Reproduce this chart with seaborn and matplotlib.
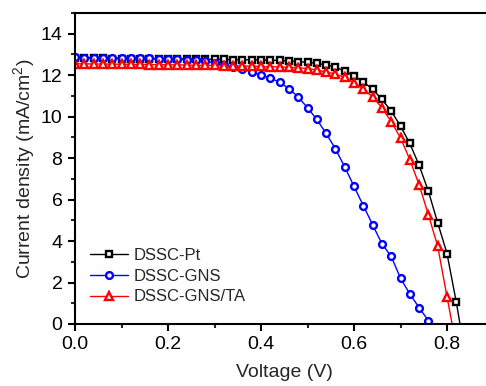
import numpy as np
import pandas as pd
import matplotlib
matplotlib.use("Agg")
import matplotlib.pyplot as plt
import seaborn as sns
from matplotlib.ticker import MultipleLocator, FormatStrFormatter

# J-V data, markers every 0.02 V
v_pt = np.round(np.arange(0, 0.83, 0.02), 2)
j_pt = [12.82, 12.82, 12.81, 12.81, 12.80, 12.80, 12.80, 12.79, 12.79, 12.79,
        12.78, 12.78, 12.78, 12.77, 12.77, 12.76, 12.76, 12.75, 12.75, 12.74,
        12.73, 12.72, 12.71, 12.69, 12.66, 12.62, 12.57, 12.50, 12.38, 12.21,
        11.97, 11.68, 11.32, 10.84, 10.27, 9.55, 8.71, 7.66, 6.40, 4.88,
        3.40, 1.05]
v_gns = np.round(np.arange(0, 0.77, 0.02), 2)
j_gns = [12.86, 12.85, 12.85, 12.84, 12.84, 12.83, 12.83, 12.82, 12.81, 12.80,
         12.79, 12.77, 12.75, 12.72, 12.67, 12.60, 12.50, 12.40, 12.29, 12.16,
         12.00, 11.86, 11.66, 11.35, 10.95, 10.43, 9.87, 9.19, 8.45, 7.58,
         6.64, 5.71, 4.79, 3.87, 3.26, 2.21, 1.45, 0.79, 0.16]
v_ta = np.round(np.arange(0, 0.81, 0.02), 2)
j_ta = [12.55, 12.55, 12.54, 12.54, 12.53, 12.53, 12.52, 12.52, 12.51, 12.51,
        12.50, 12.50, 12.49, 12.48, 12.48, 12.47, 12.46, 12.45, 12.44, 12.43,
        12.42, 12.41, 12.40, 12.38, 12.36, 12.32, 12.25, 12.16, 12.05, 11.89,
        11.64, 11.35, 10.95, 10.43, 9.76, 8.98, 7.93, 6.72, 5.27, 3.75,
        1.32]
# open-circuit voltages where the lines meet J = 0
voc = {"DSSC-Pt": 0.828, "DSSC-GNS": 0.765, "DSSC-GNS/TA": 0.811}

series = [
    ("DSSC-Pt", v_pt, j_pt, "black", "s", 4.3),
    ("DSSC-GNS", v_gns, j_gns, "#0000FF", "o", 4.9),
    ("DSSC-GNS/TA", v_ta, j_ta, "#FF0000", "^", 5.8),
]

sns.set_style("ticks")
plt.rcParams["font.family"] = ["Liberation Sans", "DejaVu Sans"]
plt.rcParams["mathtext.fontset"] = "custom"
plt.rcParams["mathtext.rm"] = "Liberation Sans"

fig = plt.figure(figsize=(4.86, 3.86), dpi=100)
ax = fig.add_axes([75 / 486, 62 / 386, 418.5 / 486, 311 / 386])

for name, v, j, col, mk, ms in series:
    df = pd.DataFrame({"V": list(v) + [voc[name]], "J": list(j) + [0.0]})
    sns.lineplot(data=df, x="V", y="J", ax=ax, color=col, lw=1, marker=mk,
                 markersize=ms, markerfacecolor="white", markeredgecolor=col,
                 markeredgewidth=1.7, markevery=list(range(len(v))),
                 label=name, estimator=None)

ax.set_xlim(0, 0.9)
ax.set_ylim(0, 15)
ax.xaxis.set_major_locator(MultipleLocator(0.2))
ax.xaxis.set_minor_locator(MultipleLocator(0.1))
ax.xaxis.set_major_formatter(FormatStrFormatter("%.1f"))
ax.yaxis.set_major_locator(MultipleLocator(2))
ax.yaxis.set_minor_locator(MultipleLocator(1))
ax.tick_params(which="major", direction="out", length=5, width=1.5,
               labelsize=14, colors="black")
ax.tick_params(which="minor", direction="out", length=3, width=1.5)
ax.tick_params(axis="y", pad=4)
for s in ["left", "bottom", "top", "right"]:
    ax.spines[s].set_linewidth(1.5)
    ax.spines[s].set_color("black")

ax.set_xlabel("Voltage (V)", fontsize=14, labelpad=8)
ax.set_ylabel("Current density (mA/cm$^2$)", fontsize=14, labelpad=2)

ax.legend(loc="center left", bbox_to_anchor=(0.036, 0.154), frameon=False,
          fontsize=12, handlelength=2.3, handletextpad=0.3, labelspacing=0.35,
          borderaxespad=0, borderpad=0)

fig.savefig("out.png", dpi=100)
